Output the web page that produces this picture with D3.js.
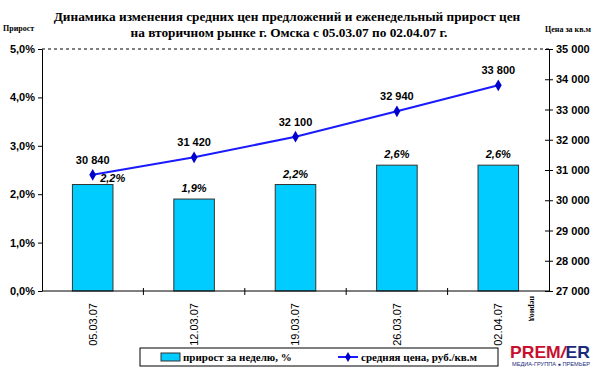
<!DOCTYPE html>
<html>
<head>
<meta charset="utf-8">
<script src="https://cdn.jsdelivr.net/npm/d3@7"></script>
<style>
  body { margin: 0; background: #fff; }
  svg { display: block; }
</style>
</head>
<body>
<div id="viz"></div>
<script>
// data
var weeks = ["05.03.07", "12.03.07", "19.03.07", "26.03.07", "02.04.07"];
var growth = [2.2, 1.9, 2.2, 2.6, 2.6];          // прирост за неделю, %
var price = [30840, 31420, 32100, 32940, 33800];  // средняя цена, руб./кв.м
var pctTicks = [0, 1, 2, 3, 4, 5];
var priceTicks = [27000, 28000, 29000, 30000, 31000, 32000, 33000, 34000, 35000];

var W = 600, H = 373;
var pLeft = 42, pRight = 549, pTop = 49, pBottom = 291;

var svg = d3.select("#viz")
  .append("svg")
  .attr("width", W)
  .attr("height", H);

var x = d3.scaleBand().domain(weeks).range([pLeft, pRight]).paddingInner(0.6).paddingOuter(0.3);
var yL = d3.scaleLinear().domain([0, 5]).range([pBottom, pTop]);
var yR = d3.scaleLinear().domain([27000, 35000]).range([pBottom, pTop]);

var comma = function(v) { return d3.format(".1f")(v).replace(".", ",") + "%"; };
var spaced = function(v) { return d3.format(",")(v).replace(/,/g, " "); };

// title
var title = svg.append("text")
  .attr("text-anchor", "middle")
  .style("font-family", "Liberation Serif, Times New Roman, serif")
  .style("font-weight", "bold")
  .style("font-size", "13.3px");
title.append("tspan").attr("x", 287).attr("y", 21)
  .text("Динамика изменения средних цен предложений и еженедельный прирост цен");
title.append("tspan").attr("x", 289).attr("y", 37)
  .text("на вторичном рынке г. Омска с 05.03.07 по 02.04.07 г.");

svg.append("text")
  .attr("x", 3).attr("y", 31)
  .style("font-family", "Liberation Serif, serif")
  .style("font-weight", "bold")
  .style("font-size", "8px")
  .text("Прирост");

svg.append("text")
  .attr("x", 591).attr("y", 32)
  .attr("text-anchor", "end")
  .style("font-family", "Liberation Serif, serif")
  .style("font-weight", "bold")
  .style("font-size", "8px")
  .text("Цена за кв.м");

// top dashed border
svg.append("line")
  .attr("x1", pLeft).attr("x2", pRight)
  .attr("y1", pTop).attr("y2", pTop)
  .attr("stroke", "#000")
  .attr("stroke-dasharray", "3,3");

// bars
svg.selectAll("rect.bar")
  .data(growth)
  .enter().append("rect")
  .attr("class", "bar")
  .attr("x", function(d, i) { return x(weeks[i]); })
  .attr("width", x.bandwidth())
  .attr("y", function(d) { return yL(d); })
  .attr("height", function(d) { return yL(0) - yL(d); })
  .attr("fill", "#00CCFF")
  .attr("stroke", "#333")
  .attr("stroke-width", 1);

// axes
var axisFont = function(g) {
  g.selectAll("text")
    .style("font-family", "Liberation Sans, Arial, sans-serif")
    .style("font-weight", "bold")
    .style("font-size", "11px")
    .attr("fill", "#000");
  g.select(".domain").attr("stroke", "#000");
  g.selectAll(".tick line").attr("stroke", "#000");
};

svg.append("g")
  .attr("transform", "translate(" + pLeft + ",0)")
  .call(d3.axisLeft(yL).tickValues(pctTicks).tickFormat(comma).tickSize(4).tickSizeOuter(0))
  .call(axisFont);

var gR = svg.append("g")
  .attr("transform", "translate(" + pRight + ",0)")
  .call(d3.axisRight(yR).tickValues(priceTicks).tickFormat(spaced).tickSize(4).tickSizeOuter(0))
  .call(axisFont);
gR.selectAll(".tick line").attr("x1", -4);

var gX = svg.append("g")
  .attr("transform", "translate(0," + pBottom + ")")
  .call(d3.axisBottom(x).tickSize(0).tickSizeOuter(0));
gX.select(".domain").attr("stroke", "#000").attr("d", "M" + pLeft + ",0H" + pRight);
gX.selectAll(".tick text")
  .attr("transform", "rotate(-90)")
  .attr("text-anchor", "end")
  .attr("x", -12)
  .attr("y", 0)
  .attr("dy", "0.35em")
  .style("font-family", "Liberation Sans, Arial, sans-serif")
  .style("font-size", "11px")
  .attr("fill", "#000");

// ticks between categories
var step = x.step();
gX.selectAll("line.sep")
  .data(weeks.slice(1))
  .enter().append("line")
  .attr("class", "sep")
  .attr("x1", function(d) { return x(d) - step * x.paddingInner() / 2; })
  .attr("x2", function(d) { return x(d) - step * x.paddingInner() / 2; })
  .attr("y1", -3).attr("y2", 4)
  .attr("stroke", "#000");

svg.append("text")
  .attr("transform", "translate(530,296) rotate(90)")
  .style("font-family", "Liberation Serif, serif")
  .style("font-weight", "bold")
  .style("font-size", "8px")
  .text("период");

// price line
var cx = function(i) { return x(weeks[i]) + x.bandwidth() / 2; };
var line = d3.line()
  .x(function(d, i) { return cx(i); })
  .y(function(d) { return yR(d); });

svg.append("path")
  .datum(price)
  .attr("d", line)
  .attr("fill", "none")
  .attr("stroke", "#1a1aff")
  .attr("stroke-width", 2);

svg.selectAll("path.pt")
  .data(price)
  .enter().append("path")
  .attr("class", "pt")
  .attr("d", d3.symbol().type(d3.symbolDiamond).size(40))
  .attr("transform", function(d, i) { return "translate(" + cx(i) + "," + yR(d) + ")"; })
  .attr("fill", "#0000cc");

svg.selectAll("text.pl")
  .data(price)
  .enter().append("text")
  .attr("class", "pl")
  .attr("x", function(d, i) { return cx(i); })
  .attr("y", function(d) { return yR(d) - 11; })
  .attr("text-anchor", "middle")
  .style("font-family", "Liberation Sans, Arial, sans-serif")
  .style("font-weight", "bold")
  .style("font-size", "11px")
  .text(spaced);

// bar labels
svg.selectAll("text.bl")
  .data(growth)
  .enter().append("text")
  .attr("class", "bl")
  .attr("x", function(d, i) { return cx(i) + (i === 0 ? 20 : 0); })
  .attr("y", function(d, i) { return yL(d) - (i === 0 ? 3 : 7); })
  .attr("text-anchor", "middle")
  .style("font-family", "Liberation Sans, Arial, sans-serif")
  .style("font-weight", "bold")
  .style("font-style", "italic")
  .style("font-size", "11px")
  .text(comma);

// legend
var lg = svg.append("g").attr("transform", "translate(140,348)");
lg.append("rect")
  .attr("width", 358).attr("height", 18)
  .attr("fill", "#fff").attr("stroke", "#000");
lg.append("rect")
  .attr("x", 21).attr("y", 5).attr("width", 19).attr("height", 8)
  .attr("fill", "#00CCFF").attr("stroke", "#333");
lg.append("text")
  .attr("x", 43).attr("y", 13)
  .style("font-family", "Liberation Serif, serif")
  .style("font-weight", "bold")
  .style("font-size", "11px")
  .text("прирост за неделю, %");
lg.append("line")
  .attr("x1", 198).attr("x2", 218).attr("y1", 9).attr("y2", 9)
  .attr("stroke", "#1a1aff").attr("stroke-width", 2);
lg.append("path")
  .attr("d", d3.symbol().type(d3.symbolDiamond).size(30))
  .attr("transform", "translate(208,9)")
  .attr("fill", "#0000cc");
lg.append("text")
  .attr("x", 221).attr("y", 13)
  .style("font-family", "Liberation Serif, serif")
  .style("font-weight", "bold")
  .style("font-size", "11px")
  .text("средняя цена, руб./кв.м");

// logo
var logo = svg.append("text")
  .attr("x", 510).attr("y", 358)
  .attr("textLength", 80)
  .attr("lengthAdjust", "spacingAndGlyphs")
  .style("font-family", "Liberation Sans, Arial, sans-serif")
  .style("font-weight", "bold")
  .style("font-size", "17px");
logo.append("tspan").attr("fill", "#c8102e").text("PREM");
logo.append("tspan").attr("fill", "#c8102e").style("font-style", "italic").text("/");
logo.append("tspan").attr("fill", "#1c2a7a").text("ER");
svg.append("text")
  .attr("x", 512).attr("y", 366)
  .attr("textLength", 78)
  .attr("lengthAdjust", "spacingAndGlyphs")
  .attr("fill", "#1c2a7a")
  .style("font-family", "Liberation Sans, Arial, sans-serif")
  .style("font-size", "5px")
  .text("МЕДИА-ГРУППА ● ПРЕМЬЕР");
</script>
</body>
</html>
